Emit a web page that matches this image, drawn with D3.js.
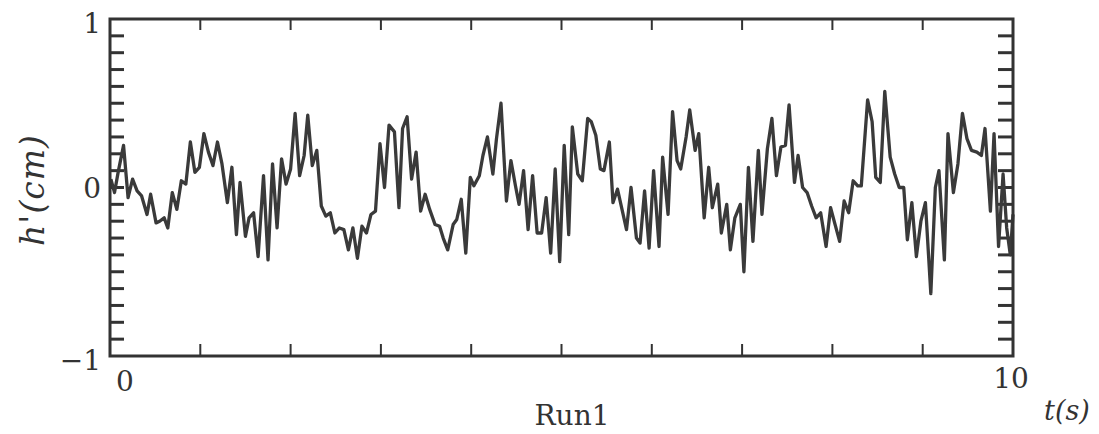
<!DOCTYPE html>
<html>
<head>
<meta charset="utf-8">
<script src="https://cdn.jsdelivr.net/npm/d3@7"></script>
<style>
  body { margin: 0; background: #fff; }
  text { font-family: "DejaVu Serif", serif; fill: #333; }
</style>
</head>
<body>
<svg width="1099" height="434"></svg>
<script>
// time (s) and wave elevation h' (cm)
const tVals = [0.01, 0.05, 0.09, 0.15, 0.20, 0.25, 0.30, 0.35, 0.41, 0.45,
  0.51, 0.55, 0.60, 0.64, 0.69, 0.74, 0.79, 0.84, 0.89, 0.94,
  0.99, 1.04, 1.09, 1.14, 1.19, 1.24, 1.30, 1.35, 1.40, 1.44,
  1.50, 1.54, 1.59, 1.64, 1.70, 1.75, 1.80, 1.85, 1.90, 1.95,
  2.00, 2.05, 2.10, 2.15, 2.19, 2.24, 2.29, 2.34, 2.39, 2.44,
  2.49, 2.54, 2.59, 2.64, 2.69, 2.74, 2.79, 2.84, 2.89, 2.94,
  2.99, 3.04, 3.09, 3.15, 3.20, 3.24, 3.29, 3.34, 3.39, 3.44,
  3.49, 3.54, 3.60, 3.65, 3.69, 3.74, 3.80, 3.84, 3.89, 3.94,
  3.99, 4.03, 4.09, 4.13, 4.18, 4.24, 4.28, 4.33, 4.39, 4.44,
  4.49, 4.53, 4.58, 4.63, 4.68, 4.73, 4.78, 4.83, 4.88, 4.93,
  4.98, 5.03, 5.08, 5.12, 5.18, 5.23, 5.29, 5.33, 5.38, 5.43,
  5.47, 5.53, 5.57, 5.62, 5.67, 5.72, 5.77, 5.83, 5.87, 5.92,
  5.97, 6.02, 6.08, 6.12, 6.18, 6.23, 6.28, 6.32, 6.38, 6.42,
  6.48, 6.52, 6.58, 6.63, 6.67, 6.73, 6.77, 6.83, 6.87, 6.92,
  6.98, 7.02, 7.07, 7.12, 7.18, 7.22, 7.28, 7.33, 7.38, 7.43,
  7.48, 7.52, 7.58, 7.62, 7.67, 7.72, 7.77, 7.82, 7.87, 7.93,
  7.98, 8.03, 8.08, 8.13, 8.18, 8.23, 8.28, 8.32, 8.39, 8.44,
  8.48, 8.53, 8.58, 8.64, 8.69, 8.74, 8.79, 8.83, 8.88, 8.93,
  8.98, 9.03, 9.09, 9.14, 9.18, 9.24, 9.28, 9.34, 9.39, 9.44,
  9.49, 9.54, 9.60, 9.65, 9.69, 9.75, 9.79, 9.84, 9.89, 9.93,
  9.97, 10.0]

const hVals = [0.05, -0.03, 0.09, 0.25, -0.06, 0.05, -0.02, -0.05, -0.16, -0.04,
  -0.21, -0.20, -0.18, -0.24, -0.03, -0.13, 0.04, 0.02, 0.27, 0.09,
  0.12, 0.32, 0.21, 0.13, 0.27, 0.14, -0.09, 0.12, -0.28, 0.03,
  -0.29, -0.18, -0.15, -0.41, 0.07, -0.43, 0.14, -0.24, 0.17, 0.02,
  0.11, 0.44, 0.07, 0.19, 0.43, 0.13, 0.22, -0.11, -0.17, -0.15,
  -0.27, -0.24, -0.25, -0.37, -0.24, -0.42, -0.23, -0.27, -0.16, -0.14,
  0.26, 0.00, 0.37, 0.33, -0.12, 0.35, 0.42, 0.05, 0.21, -0.14,
  -0.04, -0.13, -0.22, -0.23, -0.30, -0.37, -0.22, -0.19, -0.07, -0.39,
  0.06, 0.01, 0.07, 0.19, 0.30, 0.08, 0.29, 0.50, -0.08, 0.16,
  0.01, -0.10, 0.10, -0.25, 0.07, -0.27, -0.27, -0.06, -0.39, 0.11,
  -0.44, 0.25, -0.28, 0.36, 0.08, 0.04, 0.41, 0.39, 0.31, 0.11,
  0.10, 0.27, -0.09, -0.01, -0.13, -0.25, 0.00, -0.30, -0.33, -0.02,
  -0.36, 0.10, -0.35, 0.18, -0.16, 0.45, 0.16, 0.11, 0.30, 0.46,
  0.22, 0.32, -0.18, 0.12, -0.12, 0.02, -0.27, -0.10, -0.37, -0.18,
  -0.10, -0.50, 0.12, -0.32, 0.22, -0.16, 0.23, 0.41, 0.07, 0.24,
  0.25, 0.49, 0.03, 0.19, 0.00, -0.03, -0.11, -0.18, -0.15, -0.35,
  -0.12, -0.22, -0.32, -0.08, -0.15, 0.04, 0.01, 0.01, 0.52, 0.39,
  0.06, 0.03, 0.57, 0.18, 0.08, 0.00, 0.00, -0.31, -0.09, -0.41,
  -0.20, -0.09, -0.63, 0.00, 0.10, -0.43, 0.32, -0.03, 0.14, 0.44,
  0.29, 0.22, 0.21, 0.19, 0.35, -0.14, 0.32, -0.35, 0.08, -0.24,
  -0.40, -0.16]

const xTickLabels = [{ v: 0, label: '0' }, { v: 10, label: '10' }]
const yTickLabels = [{ v: 1, label: '1' }, { v: 0, label: '0' }, { v: -1, label: '\u22121' }]

const data = tVals.map((t, i) => ({ t: t, h: hVals[i] }))

const svg = d3.select('svg')
const plotL = 110, plotR = 1013, plotT = 19, plotB = 356
const ink = '#333'

const x = d3.scaleLinear().domain([0, 10]).range([plotL, plotR])
const y = d3.scaleLinear().domain([-1, 1]).range([plotB, plotT])

// minor ticks, all pointing inward
const yTicks = y.ticks(20).filter(d => d > -1 && d < 1)
const xTicks = x.ticks(10).filter(d => d > 0 && d < 10)

const ticks = svg.append('g').attr('stroke', ink)

ticks.selectAll('.yl').data(yTicks).enter().append('line')
  .attr('x1', plotL).attr('x2', plotL + 14)
  .attr('y1', d => y(d)).attr('y2', d => y(d))
  .attr('stroke-width', 3)

ticks.selectAll('.yr').data(yTicks).enter().append('line')
  .attr('x1', plotR).attr('x2', plotR - 15)
  .attr('y1', d => y(d)).attr('y2', d => y(d))
  .attr('stroke-width', 3)

ticks.selectAll('.xt').data(xTicks).enter().append('line')
  .attr('x1', d => x(d)).attr('x2', d => x(d))
  .attr('y1', plotT).attr('y2', plotT + 11)
  .attr('stroke-width', 2)

ticks.selectAll('.xb').data(xTicks).enter().append('line')
  .attr('x1', d => x(d)).attr('x2', d => x(d))
  .attr('y1', plotB).attr('y2', plotB - 12)
  .attr('stroke-width', 2)

// the signal
const line = d3.line()
  .x(d => x(d.t))
  .y(d => y(d.h))

svg.append('path')
  .datum(data)
  .attr('d', line)
  .attr('fill', 'none')
  .attr('stroke', '#3a3a3a')
  .attr('stroke-width', 3.3)
  .attr('stroke-linejoin', 'round')

// frame
svg.append('rect')
  .attr('x', plotL).attr('y', plotT)
  .attr('width', plotR - plotL).attr('height', plotB - plotT)
  .attr('fill', 'none')
  .attr('stroke', ink)
  .attr('stroke-width', 3)

// tick labels
svg.selectAll('.ylab').data(yTickLabels).enter().append('text')
  .attr('x', plotL - 9)
  .attr('y', d => y(d.v) + (d.v == 1 ? 14 : d.v == -1 ? 14 : 10))
  .attr('text-anchor', 'end')
  .attr('font-size', 28)
  .text(d => d.label)

svg.selectAll('.xlab').data(xTickLabels).enter().append('text')
  .attr('x', d => x(d.v) + (d.v == 0 ? 15 : -2))
  .attr('y', d => d.v == 0 ? 391 : 388)
  .attr('text-anchor', 'middle')
  .attr('font-size', 28)
  .text(d => d.label)

// axis titles
svg.append('text')
  .attr('x', 572).attr('y', 425)
  .attr('text-anchor', 'middle')
  .attr('font-size', 28)
  .text('Run1')

svg.append('text')
  .attr('x', 1067).attr('y', 420)
  .attr('text-anchor', 'middle')
  .attr('font-size', 27)
  .attr('font-style', 'italic')
  .text('t(s)')

svg.append('text')
  .attr('transform', 'translate(44,190) rotate(-90)')
  .attr('text-anchor', 'middle')
  .attr('font-size', 33)
  .attr('letter-spacing', 1)
  .attr('font-style', 'italic')
  .text("h'(cm)")
</script>
</body>
</html>
